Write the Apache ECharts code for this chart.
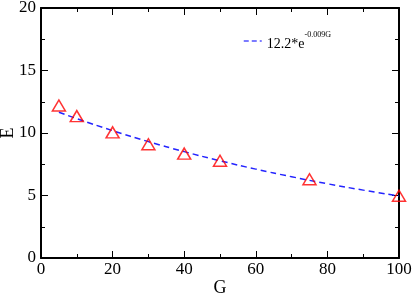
<!DOCTYPE html>
<html><head><meta charset="utf-8">
<script src="https://cdn.jsdelivr.net/npm/echarts@6/dist/echarts.min.js"></script>
<style>html,body{margin:0;padding:0;background:#fff}#c{width:415px;height:296px}</style>
</head><body><div id="c"></div>
<script>
const measG = [5, 10, 20, 30, 40, 50, 75, 100];
const measE = [12.2, 11.35, 10.05, 9.1, 8.35, 7.78, 6.3, 4.98];
const fitG = [5, 10, 20, 30, 40, 50, 60, 70, 80, 90, 100];
const fitE = [11.66, 11.15, 10.19, 9.31, 8.51, 7.78, 7.11, 6.50, 5.94, 5.43, 4.96];
const xTicks = [0, 20, 40, 60, 80, 100];
const yTicks = [0, 5, 10, 15, 20];
const fontFam = '"Liberation Serif","DejaVu Serif",serif';

const chart = echarts.init(document.getElementById('c'));
const axisCommon = {
  axisLine: {show: true, onZero: false, lineStyle: {color: '#000', width: 2}},
  axisTick: {show: true, inside: true, length: 7, lineStyle: {color: '#000', width: 1}},
  minorTick: {show: true, splitNumber: 2, length: 4, lineStyle: {color: '#000', width: 1}},
  splitLine: {show: false},
  axisLabel: {color: '#000', fontFamily: fontFam, fontSize: 17}
};
chart.setOption({
  animation: false,
  grid: {left: 41, right: 16, top: 8, bottom: 38, containLabel: false, outerBoundsMode: 'none'},
  legend: {
    left: 238, top: 26, itemWidth: 18, itemHeight: 8, itemGap: 6,
    data: [{name: 'fit', itemStyle: {opacity: 0}}],
    lineStyle: {type: [5, 3], width: 1.5, color: '#5050ff'},
    formatter: () => '{a|12.2*e}{b|-0.009G}',
    textStyle: {
      rich: {
        a: {fontFamily: fontFam, fontSize: 14, color: '#000', padding: [6, 0, 0, 0]},
        b: {fontFamily: fontFam, fontSize: 8, color: '#000', verticalAlign: 'top', padding: [0, 0, 6, 0]}
      }
    }
  },
  xAxis: [
    Object.assign({}, axisCommon, {
      type: 'value', min: 0, max: 100, interval: 20,
      name: 'G', nameLocation: 'middle', nameGap: 21, nameMoveOverlap: false,
      nameTextStyle: {fontFamily: fontFam, fontSize: 18, color: '#000'},
      axisLabel: Object.assign({}, axisCommon.axisLabel, {margin: 3, formatter: v => xTicks.includes(v) ? String(v) : ''})
    }),
    Object.assign({}, axisCommon, {
      type: 'value', min: 0, max: 100, interval: 20, position: 'top',
      axisLabel: {show: false}
    })
  ],
  yAxis: [
    Object.assign({}, axisCommon, {
      type: 'value', min: 0, max: 20, interval: 5,
      name: 'E', nameLocation: 'middle', nameGap: 24, nameMoveOverlap: false,
      nameTextStyle: {fontFamily: fontFam, fontSize: 18, color: '#000'},
      axisLabel: Object.assign({}, axisCommon.axisLabel, {margin: 5, formatter: v => yTicks.includes(v) ? String(v) : ''})
    }),
    Object.assign({}, axisCommon, {
      type: 'value', min: 0, max: 20, interval: 5, position: 'right',
      axisLabel: {show: false}
    })
  ],
  series: [
    {
      name: 'fit', type: 'line', data: fitG.map((g, i) => [g, fitE[i]]),
      smooth: true, showSymbol: false, symbol: 'none',
      lineStyle: {color: '#2424ff', width: 1.5, type: [6, 4]},
      itemStyle: {color: '#2424ff'}, z: 2
    },
    {
      name: 'data', type: 'scatter', data: measG.map((g, i) => [g, measE[i]]),
      symbol: 'triangle', symbolSize: [13, 11],
      itemStyle: {color: 'rgba(255,255,255,0)', borderColor: '#ff0000', borderWidth: 1.5}, z: 3
    }
  ]
});
</script></body></html>
